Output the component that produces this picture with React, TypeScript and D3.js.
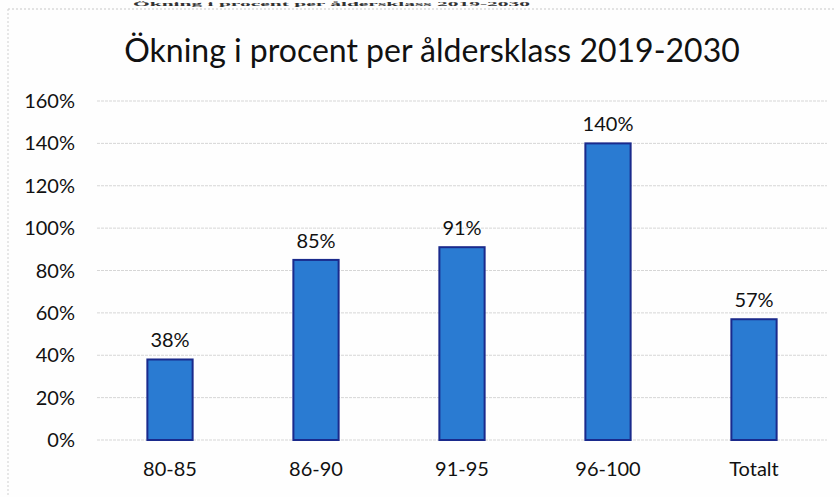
import React from "react";
import * as d3 from "d3";

const categories = ["80-85", "86-90", "91-95", "96-100", "Totalt"];
const values = [0.38, 0.85, 0.91, 1.4, 0.57];
const valueLabels = ["38%", "85%", "91%", "140%", "57%"];
const yTicks = [0, 0.2, 0.4, 0.6, 0.8, 1.0, 1.2, 1.4, 1.6];
const title = "Ökning i procent per åldersklass 2019-2030";
const topText = "Ökning i procent per åldersklass 2019-2030";

const W = 840;
const H = 497;
const FONT = "Lato, 'Open Sans', sans-serif";

export default function App() {
  const x = d3.scaleBand<string>().domain(categories).range([97, 827]).paddingInner(0.69).paddingOuter(0.345);
  const y = d3.scaleLinear().domain([0, 1.6]).range([440, 101]);
  const fmt = d3.format(".0%");

  return (
    <svg width={W} height={H} style={{ position: "absolute", left: 0, top: 0, background: "#fff" }}>
      <rect x={0} y={0} width={W} height={H} fill="#fefefe" />
      <text x={133} y={6} fontFamily="'Liberation Serif', serif" fontWeight="bold" fontSize={7} fill="#333" textLength={397} lengthAdjust="spacingAndGlyphs">
        {topText}
      </text>
      <line x1={8} x2={834} y1={9} y2={9} stroke="#c8c8c8" strokeDasharray="2,2" />
      <line x1={8} x2={8} y1={9} y2={497} stroke="#d0d0d0" strokeDasharray="2,2" />
      <text x={432} y={62} textAnchor="middle" fontFamily={FONT} fontSize={32} fill="#111">
        {title}
      </text>
      {yTicks.map((t) => (
        <g key={t}>
          <line x1={97} x2={827} y1={y(t)} y2={y(t)} stroke="#d6d6d6" strokeWidth={1} strokeDasharray="3,1" />
          <text x={75} y={y(t)} dy="0.35em" textAnchor="end" fontFamily={FONT} fontSize={20} fill="#111">
            {fmt(t)}
          </text>
        </g>
      ))}
      {categories.map((c, i) => {
        const bx = x(c)!;
        const bw = x.bandwidth();
        return (
          <g key={c}>
            <rect
              x={bx}
              y={y(values[i])}
              width={bw}
              height={y(0) - y(values[i])}
              fill="#2a7bd2"
              stroke="#1a2a8c"
              strokeWidth={2}
            />
            <text x={bx + bw / 2} y={y(values[i]) - 12} textAnchor="middle" fontFamily={FONT} fontSize={20} fill="#111">
              {valueLabels[i]}
            </text>
            <text x={bx + bw / 2} y={469} dy="0.35em" textAnchor="middle" fontFamily={FONT} fontSize={20} fill="#111">
              {c}
            </text>
          </g>
        );
      })}
    </svg>
  );
}
